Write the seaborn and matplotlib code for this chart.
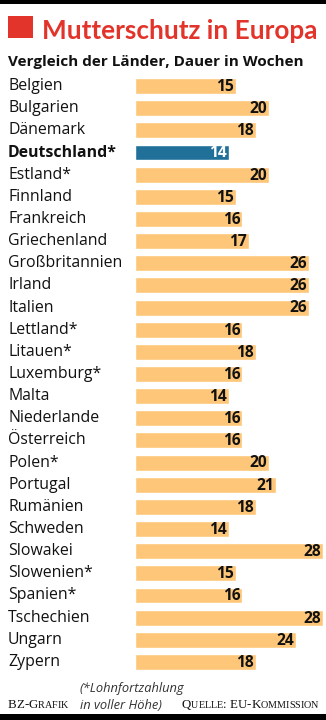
import matplotlib
matplotlib.use("Agg")
import matplotlib.pyplot as plt
import seaborn as sns
import pandas as pd
from matplotlib.patches import Rectangle
from matplotlib.transforms import blended_transform_factory

sns.set_theme(style="white")
plt.rcParams["font.family"] = ["Open Sans", "DejaVu Sans"]

countries = ["Belgien", "Bulgarien", "Dänemark", "Deutschland*", "Estland*", "Finnland",
             "Frankreich", "Griechenland", "Großbritannien", "Irland", "Italien", "Lettland*",
             "Litauen*", "Luxemburg*", "Malta", "Niederlande", "Österreich", "Polen*",
             "Portugal", "Rumänien", "Schweden", "Slowakei", "Slowenien*", "Spanien*",
             "Tschechien", "Ungarn", "Zypern"]
weeks = [15, 20, 18, 14, 20, 15, 16, 17, 26, 26, 26, 16, 18, 16, 14, 16, 16, 20,
         21, 18, 14, 28, 15, 16, 28, 24, 18]
highlight = "Deutschland*"

title = "Mutterschutz in Europa"
subtitle = "Vergleich der Länder, Dauer in Wochen"
note_lines = ["(*Lohnfortzahlung", "in voller Höhe)"]

ORANGE = "#FDC678"
BLUE = "#21709A"
RED = "#E2342A"

df = pd.DataFrame({"land": countries, "wochen": weeks})
df["gruppe"] = ["hl" if c == highlight else "std" for c in countries]

W, H = 326, 720
fig = plt.figure(figsize=(W / 100, H / 100), dpi=100)
fig.patch.set_facecolor("white")

def px(x, y):
    return x / W, 1 - y / H

# plot area: bars start at x=135 px, rows from y=75 to y=673 px
ax_left, ax_top, ax_bot = 135, 75, 673
ax = fig.add_axes([ax_left / W, 1 - ax_bot / H, (W - ax_left) / W, (ax_bot - ax_top) / H])
sns.barplot(data=df, x="wochen", y="land", hue="gruppe",
            palette={"std": ORANGE, "hl": BLUE}, dodge=False, legend=False,
            width=0.72, saturation=1, ax=ax)
ax.set_xlim(0, (W - ax_left) / 6.7)
ax.set_ylim(len(countries) - 0.5, -0.5)
ax.axis("off")

lab_tr = blended_transform_factory(fig.transFigure, ax.transData)
for i, (c, v) in enumerate(zip(countries, weeks)):
    bold = c == highlight
    ax.text(8 / W, i, c, transform=lab_tr, ha="left", va="center",
            fontsize=11.4, fontweight="bold" if bold else "normal", color="#111111")
    ax.text(v - 0.3, i + 0.04, str(v), ha="right", va="center", fontsize=11.2,
            fontweight="bold", color="white" if bold else "#111111")

fig.canvas.draw()
renderer = fig.canvas.get_renderer()

# header
fig.patches.append(Rectangle(px(8, 38), 25 / W, 22 / H, transform=fig.transFigure,
                             facecolor=RED, edgecolor="none"))
t = fig.text(*px(42, 39), title, ha="left", va="baseline", fontsize=22,
             fontweight="bold", color=RED, family=["Lato", "DejaVu Sans"])
w = t.get_window_extent(renderer).width
t.set_fontsize(22 * 274 / w)
fig.text(*px(8, 66), subtitle, ha="left", va="baseline", fontsize=11.0,
         fontweight="bold", color="#111111")

# black rules at top and bottom
fig.patches.append(Rectangle((0, 1 - 4 / H), 1, 4 / H, transform=fig.transFigure,
                             facecolor="black", edgecolor="none"))
fig.patches.append(Rectangle((0, 0), 1, 6 / H, transform=fig.transFigure,
                             facecolor="black", edgecolor="none"))

# footer
def small_caps(x, y, text, size=9.3):
    serif = ["Liberation Serif", "DejaVu Serif"]
    cur = x
    for ch in text:
        if ch.islower():
            t = fig.text(cur / W, 1 - y / H, ch.upper(), fontsize=size * 0.78,
                         family=serif, ha="left", va="baseline", color="#111111")
        else:
            t = fig.text(cur / W, 1 - y / H, ch, fontsize=size,
                         family=serif, ha="left", va="baseline", color="#111111")
        cur += t.get_window_extent(renderer).width

small_caps(8, 708, "BZ-Grafik")
small_caps(182, 708, "Quelle: EU-Kommission")
fig.text(*px(80, 692), note_lines[0], ha="left", va="baseline", fontsize=9.3,
         style="italic", color="#333333")
fig.text(*px(80, 709), note_lines[1], ha="left", va="baseline", fontsize=9.3,
         style="italic", color="#333333")

fig.savefig("out.png", dpi=100, facecolor="white")
